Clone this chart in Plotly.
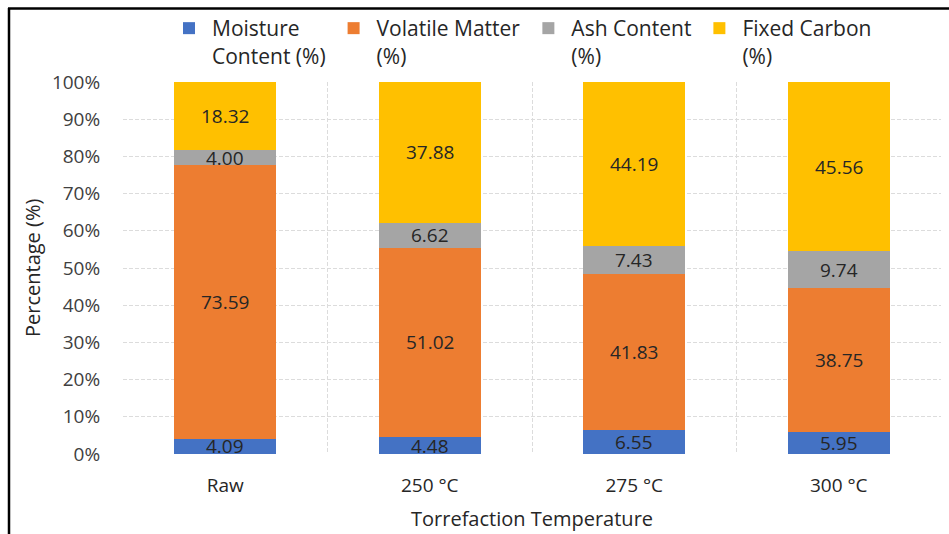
import plotly.graph_objects as go

categories = ["Raw", "250 °C", "275 °C", "300 °C"]
moisture = [4.09, 4.48, 6.55, 5.95]
volatile = [73.59, 51.02, 41.83, 38.75]
ash = [4.00, 6.62, 7.43, 9.74]
fixed_carbon = [18.32, 37.88, 44.19, 45.56]

series_names = ["Moisture<br>Content (%)", "Volatile Matter<br>(%)", "Ash Content<br>(%)", "Fixed Carbon<br>(%)"]
series_values = [moisture, volatile, ash, fixed_carbon]
colors = ["#4472C4", "#ED7D31", "#A5A5A5", "#FFC000"]
y_ticks = [0, 10, 20, 30, 40, 50, 60, 70, 80, 90, 100]

FONT = "Open Sans"
W, H = 949, 534
ML, MR, MT, MB = 123, 8, 82, 80
PW, PH = W - ML - MR, H - MT - MB


def px_x(px):
    return (px - ML) / PW


def px_y(py):
    return (H - MB - py) / PH


fig = go.Figure()
for name, vals, col in zip(series_names, series_values, colors):
    fig.add_trace(go.Bar(
        x=categories, y=vals, name=name, marker=dict(color=col, line=dict(width=0)),
        width=0.5, hoverinfo="skip",
    ))

annotations = []
for i, cat in enumerate(categories):
    base = 0.0
    for vals in series_values:
        v = vals[i]
        annotations.append(dict(
            x=cat, y=base + v / 2, xref="x", yref="y", text=f"{v:.2f}",
            showarrow=False, font=dict(family=FONT, size=19, color="#262626"),
        ))
        base += v

annotations.append(dict(
    x=px_x(32), y=0.5, xref="paper", yref="paper", text="Percentage (%)", textangle=-90,
    xanchor="center", yanchor="middle",
    showarrow=False, font=dict(family=FONT, size=20, color="#262626"),
))
annotations.append(dict(
    x=0.5, y=px_y(518), xref="paper", yref="paper", text="Torrefaction Temperature",
    xanchor="center", yanchor="middle",
    showarrow=False, font=dict(family=FONT, size=20, color="#262626"),
))

shapes = [
    dict(type="line", xref="paper", yref="paper", x0=px_x(8), x1=px_x(950), y0=px_y(8.5), y1=px_y(8.5),
         line=dict(color="black", width=2.5)),
    dict(type="line", xref="paper", yref="paper", x0=px_x(9), x1=px_x(9), y0=px_y(8), y1=px_y(535),
         line=dict(color="black", width=2.5)),
]

fig.update_layout(
    width=W, height=H,
    margin=dict(l=ML, r=MR, t=MT, b=MB),
    barmode="stack",
    plot_bgcolor="white", paper_bgcolor="white",
    font=dict(family=FONT, size=19, color="#404040"),
    showlegend=True,
    legend=dict(
        orientation="h", x=px_x(166), y=px_y(8), xanchor="left", yanchor="top",
        valign="top", font=dict(family=FONT, size=21, color="#262626"),
        bgcolor="rgba(0,0,0,0)", traceorder="normal", itemwidth=36,
    ),
    annotations=annotations,
    shapes=shapes,
    xaxis=dict(
        type="category", range=[-0.5, 3.5], tickson="boundaries",
        showgrid=True, gridcolor="#DCDCDC", griddash="4px,2px", gridwidth=1,
        ticks="", ticklabelstandoff=18,
        tickfont=dict(family=FONT, size=19, color="#262626"),
        showline=False, zeroline=False,
    ),
    yaxis=dict(
        range=[0, 100], tickvals=y_ticks, ticktext=[f"{t}%" for t in y_ticks],
        showgrid=True, gridcolor="#DCDCDC", griddash="4px,2px", gridwidth=1,
        ticks="outside", ticklen=18, tickcolor="rgba(0,0,0,0)",
        tickfont=dict(family=FONT, size=19, color="#404040"),
        showline=False, zeroline=False,
    ),
)

fig.write_html("out.html")
